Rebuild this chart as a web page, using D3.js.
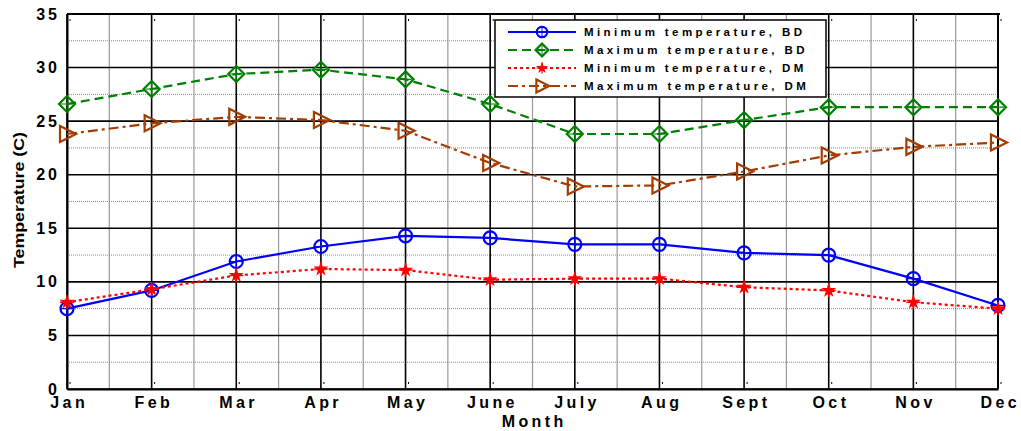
<!DOCTYPE html>
<html>
<head>
<meta charset="utf-8">
<script src="https://cdn.jsdelivr.net/npm/d3@7"></script>
<style>
  body { margin: 0; background: #fff; }
  text { font-family: Arial, "Liberation Sans", sans-serif; font-weight: bold; }
</style>
</head>
<body>
<div id="chart"></div>
<script>
// data ====================
var months = ["Jan", "Feb", "Mar", "Apr", "May", "June", "July", "Aug", "Sept", "Oct", "Nov", "Dec"];
var minBD = [7.5, 9.2, 11.9, 13.3, 14.3, 14.1, 13.5, 13.5, 12.7, 12.5, 10.3, 7.8];
var maxBD = [26.6, 28.0, 29.4, 29.8, 28.9, 26.6, 23.8, 23.8, 25.1, 26.3, 26.3, 26.3];
var minDM = [8.1, 9.3, 10.6, 11.2, 11.1, 10.2, 10.3, 10.3, 9.5, 9.2, 8.1, 7.5];
var maxDM = [23.8, 24.8, 25.4, 25.1, 24.1, 21.1, 18.9, 19.0, 20.3, 21.8, 22.6, 23.0];
var yTicks = [0, 5, 10, 15, 20, 25, 30, 35];
var seriesNames = ["Minimum temperature, BD", "Maximum temperature, BD", "Minimum temperature, DM", "Maximum temperature, DM"];

var width = 1021, height = 431;
var margin = { left: 67, right: 23, top: 14, bottom: 42 };

var svg = d3.select('#chart')
  .append('svg')
  .attr('width', width)
  .attr('height', height);

var x = d3.scalePoint()
  .domain(months)
  .range([margin.left, width - margin.right]);

var y = d3.scaleLinear()
  .domain([0, 35])
  .range([height - margin.bottom, margin.top]);

var step = x.step();

// grid ====================
var grid = svg.append('g');

// minor vertical lines between months
months.slice(0, -1).forEach(function(m) {
  grid.append('line')
    .attr('x1', x(m) + step / 2).attr('x2', x(m) + step / 2)
    .attr('y1', y(0)).attr('y2', y(35))
    .attr('stroke', '#999').attr('stroke-width', 1.2);
});

// minor horizontal lines at half steps
yTicks.slice(0, -1).forEach(function(t) {
  grid.append('line')
    .attr('x1', x("Jan")).attr('x2', x("Dec"))
    .attr('y1', y(t + 2.5)).attr('y2', y(t + 2.5))
    .attr('stroke', '#888').attr('stroke-width', 1)
    .attr('stroke-dasharray', '1,1');
});

months.forEach(function(m) {
  grid.append('line')
    .attr('x1', x(m)).attr('x2', x(m))
    .attr('y1', y(0)).attr('y2', y(35))
    .attr('stroke', '#000').attr('stroke-width', 1.6);
});

yTicks.forEach(function(t) {
  grid.append('line')
    .attr('x1', x("Jan")).attr('x2', x("Dec"))
    .attr('y1', y(t)).attr('y2', y(t))
    .attr('stroke', '#000').attr('stroke-width', 1.6);
});

// axes ====================
var xAxis = svg.append('g')
  .attr('transform', 'translate(0,' + y(0) + ')')
  .call(d3.axisBottom(x).tickSize(0).tickPadding(8));
xAxis.select('.domain').attr('stroke-width', 2);
xAxis.selectAll('text')
  .attr('font-size', 16)
  .attr('fill', '#000')
  .attr('dx', 1.7)
  .style('letter-spacing', '3.4px');

var yAxis = svg.append('g')
  .attr('transform', 'translate(' + x("Jan") + ',0)')
  .call(d3.axisLeft(y).tickValues(yTicks).tickSize(0).tickPadding(7));
yAxis.select('.domain').attr('stroke-width', 2);
yAxis.selectAll('text')
  .attr('font-size', 16)
  .attr('fill', '#000')
  .style('letter-spacing', '3px');

// box top / right
svg.append('line')
  .attr('x1', x("Jan")).attr('x2', x("Dec") + 2)
  .attr('y1', y(35)).attr('y2', y(35))
  .attr('stroke', '#000').attr('stroke-width', 2);
svg.append('line')
  .attr('x1', x("Dec")).attr('x2', x("Dec"))
  .attr('y1', y(0)).attr('y2', y(35))
  .attr('stroke', '#000').attr('stroke-width', 2);

// small inner ticks on top and bottom
months.forEach(function(m) {
  svg.append('line')
    .attr('x1', x(m) + 3).attr('x2', x(m) + 3)
    .attr('y1', y(0) - 7).attr('y2', y(0) - 5)
    .attr('stroke', '#000');
  svg.append('line')
    .attr('x1', x(m) + 3).attr('x2', x(m) + 3)
    .attr('y1', y(35) + 5).attr('y2', y(35) + 7)
    .attr('stroke', '#000');
});

svg.append('text')
  .attr('x', (x("Jan") + x("Dec")) / 2 + 1.7)
  .attr('y', 427)
  .attr('text-anchor', 'middle')
  .attr('font-size', 16)
  .style('letter-spacing', '3.4px')
  .text('Month');

svg.append('text')
  .attr('transform', 'translate(24,200) rotate(-90)')
  .attr('text-anchor', 'middle')
  .attr('font-size', 15)
  .attr('textLength', 136)
  .attr('lengthAdjust', 'spacingAndGlyphs')
  .text('Temperature (C)');

// series ====================
var series = [
  { name: seriesNames[0], values: minBD, color: '#0000ff', dash: null, marker: 'circle' },
  { name: seriesNames[1], values: maxBD, color: '#008000', dash: '9,5', marker: 'diamond' },
  { name: seriesNames[2], values: minDM, color: '#ff0000', dash: '3,3', marker: 'star' },
  { name: seriesNames[3], values: maxDM, color: '#a33c00', dash: '10,4,3,4', marker: 'triangle' }
];

var line = d3.line()
  .x(function(d, i) { return x(months[i]); })
  .y(function(d) { return y(d); });

function drawMarker(g, type, color, k) {
  k = k || 1;
  if (type == 'circle') {
    g.append('circle').attr('r', 6.5 * k)
      .attr('fill', 'none').attr('stroke', color).attr('stroke-width', 2.2);
    g.append('path').attr('d', 'M-6,0H6M0,-6V6')
      .attr('transform', 'scale(' + k + ')')
      .attr('stroke', color).attr('stroke-width', 1.2);
  } else if (type == 'diamond') {
    g.append('path').attr('d', 'M0,-8L8,0L0,8L-8,0Z')
      .attr('transform', 'scale(' + k + ')')
      .attr('fill', 'none').attr('stroke', color).attr('stroke-width', 2.2 / k);
    g.append('path').attr('d', 'M-6,0H6M0,-6V6')
      .attr('transform', 'scale(' + k + ')')
      .attr('stroke', color).attr('stroke-width', 1.2);
  } else if (type == 'star') {
    g.append('path').attr('d', d3.symbol().type(d3.symbolStar).size(70 * k * k)())
      .attr('fill', color);
    g.append('path').attr('d', 'M-7,0H7M0,-7V7')
      .attr('transform', 'scale(' + k + ')')
      .attr('stroke', color).attr('stroke-width', 1.5);
  } else {
    g.append('path').attr('d', 'M-7,-8L9,0L-7,8Z')
      .attr('transform', 'scale(' + k + ')')
      .attr('fill', 'none').attr('stroke', color).attr('stroke-width', 2.2 / k);
  }
}

series.forEach(function(s) {
  svg.append('path')
    .datum(s.values)
    .attr('d', line)
    .attr('fill', 'none')
    .attr('stroke', s.color)
    .attr('stroke-width', 2.2)
    .attr('stroke-dasharray', s.dash);

  s.values.forEach(function(v, i) {
    var g = svg.append('g')
      .attr('transform', 'translate(' + x(months[i]) + ',' + y(v) + ')');
    drawMarker(g, s.marker, s.color);
  });
});

// legend ====================
var legend = svg.append('g');
legend.append('rect')
  .attr('x', 495).attr('y', 20)
  .attr('width', 331).attr('height', 77)
  .attr('fill', '#fff')
  .attr('stroke', '#000').attr('stroke-width', 1.5);

series.forEach(function(s, i) {
  var ly = 32 + i * 18;
  legend.append('line')
    .attr('x1', 508).attr('x2', 576)
    .attr('y1', ly).attr('y2', ly)
    .attr('stroke', s.color).attr('stroke-width', 2.2)
    .attr('stroke-dasharray', s.dash);
  var g = legend.append('g').attr('transform', 'translate(542,' + ly + ')');
  drawMarker(g, s.marker, s.color, 0.8);
  legend.append('text')
    .attr('x', 584).attr('y', ly + 4)
    .attr('font-size', 11.5)
    .style('letter-spacing', '3.4px')
    .text(s.name);
});
</script>
</body>
</html>
